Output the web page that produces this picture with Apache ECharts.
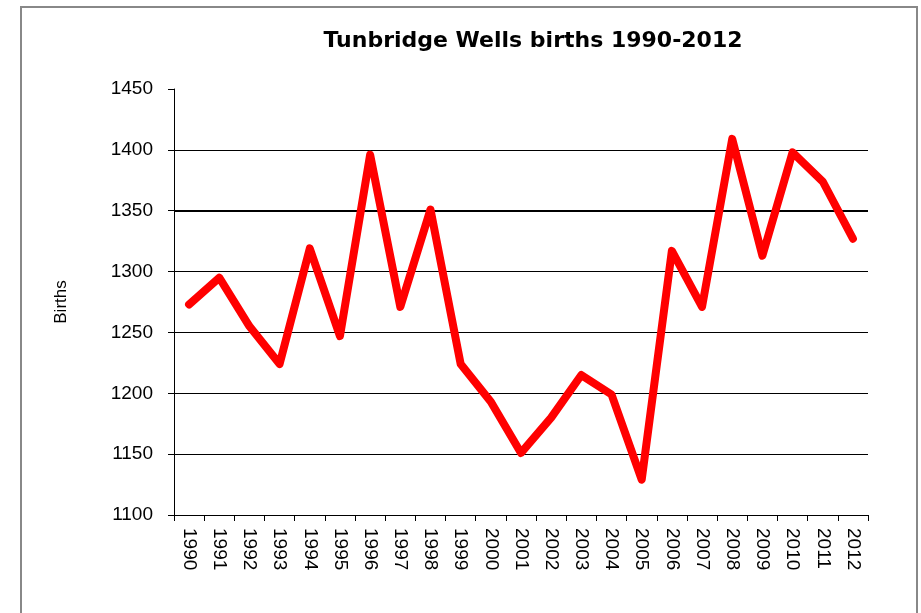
<!DOCTYPE html>
<html>

<head>
  <meta charset="utf-8">
  <title>Tunbridge Wells births</title>
  <script src="https://cdn.jsdelivr.net/npm/echarts@6/dist/echarts.min.js"></script>
  <style>
    html, body { margin: 0; padding: 0; background: #fff; }
    #chart { width: 921px; height: 613px; }
  </style>
</head>

<body>
  <div id="chart"></div>
  <script type="text/javascript">
    // 数据
    var years = ['1990', '1991', '1992', '1993', '1994', '1995', '1996', '1997', '1998', '1999', '2000',
      '2001', '2002', '2003', '2004', '2005', '2006', '2007', '2008', '2009', '2010', '2011', '2012'];
    var births = [1273, 1295, 1255, 1224, 1319, 1247, 1396, 1271, 1351, 1224, 1193,
      1151, 1180, 1215, 1199, 1129, 1317, 1271, 1409, 1313, 1398, 1374, 1327];
    var yTicks = [1100, 1150, 1200, 1250, 1300, 1350, 1400, 1450];

    var myChart = echarts.init(document.getElementById('chart'));

    var option = {
      backgroundColor: '#fff',
      animation: false,
      textStyle: { fontFamily: 'Liberation Sans, Arial, sans-serif', color: '#000' },
      title: {
        text: 'Tunbridge Wells births 1990-2012',
        left: 528,
        top: 25,
        textAlign: 'center',
        textStyle: { fontSize: 22, fontWeight: 'bold', color: '#000', fontFamily: 'DejaVu Sans' }
      },
      // 外框
      graphic: [{
        type: 'rect',
        shape: { x: 21, y: 7, width: 896, height: 700 },
        style: { fill: 'none', stroke: '#888', lineWidth: 2 },
        silent: true
      }],
      grid: {
        left: 174,
        right: 53,
        top: 89,
        bottom: 98
      },
      xAxis: {
        type: 'category',
        data: years,
        boundaryGap: true,
        axisLine: { lineStyle: { color: '#000', width: 1 } },
        axisTick: { show: true, interval: 0, length: 6, lineStyle: { color: '#000' } },
        axisLabel: {
          interval: 0,
          rotate: -90,
          margin: 13,
          fontSize: 19,
          color: '#000'
        },
        splitLine: { show: false }
      },
      yAxis: {
        type: 'value',
        name: 'Births',
        nameLocation: 'middle',
        nameRotate: 90,
        nameGap: 104,
        nameTextStyle: { fontSize: 17, color: '#000' },
        min: yTicks[0],
        max: yTicks[yTicks.length - 1],
        interval: 50,
        axisLine: { show: true, lineStyle: { color: '#000', width: 1 } },
        axisTick: { show: true, length: 6, lineStyle: { color: '#000' } },
        axisLabel: {
          fontSize: 19,
          margin: 21,
          color: '#000',
          formatter: function (v) { return String(v); }
        },
        splitLine: {
          show: true,
          showMaxLine: false,
          lineStyle: { color: '#000', width: 1 }
        }
      },
      series: [{
        name: 'Births',
        type: 'line',
        data: births,
        symbol: 'none',
        lineStyle: { color: '#ff0000', width: 8, join: 'round', cap: 'round' },
        markLine: {
          silent: true,
          symbol: 'none',
          label: { show: false },
          lineStyle: { color: '#000', width: 2, type: 'solid' },
          data: [{ yAxis: 1350 }],
          z: 1
        }
      }]
    };
    myChart.setOption(option);
  </script>
</body>

</html>
